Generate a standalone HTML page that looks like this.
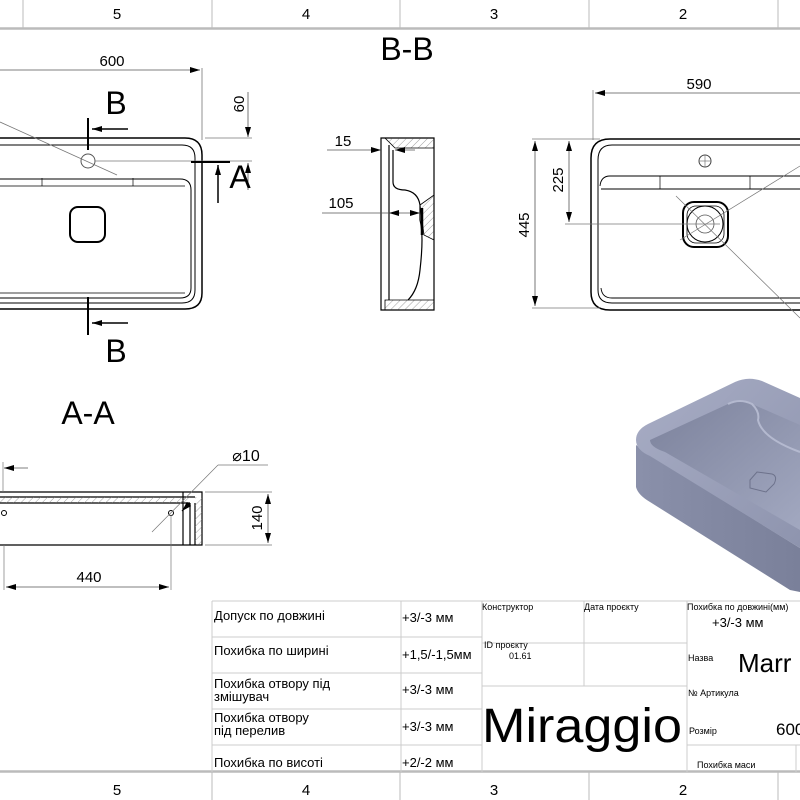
<!DOCTYPE html>
<html><head><meta charset="utf-8"><style>
html,body{margin:0;padding:0;background:#fff}
svg{display:block}
text{font-family:"Liberation Sans",sans-serif;fill:#000}
.t{font-family:"Liberation Sans Narrow","Liberation Sans",sans-serif}
</style></head><body>
<svg width="800" height="800" viewBox="0 0 800 800" xmlns="http://www.w3.org/2000/svg">
<defs>
<marker id="ar" markerWidth="10" markerHeight="6" refX="10" refY="3" orient="auto" markerUnits="userSpaceOnUse"><path d="M0,0 L10,3 L0,6 z" fill="#000"/></marker>
<pattern id="h" width="5" height="5" patternUnits="userSpaceOnUse" patternTransform="rotate(45)"><line x1="0" y1="0" x2="0" y2="5" stroke="#777" stroke-width="0.7"/></pattern>
<linearGradient id="g1" x1="0" y1="0" x2="1" y2="1"><stop offset="0" stop-color="#a8adc5"/><stop offset="1" stop-color="#8e94ae"/></linearGradient>
<linearGradient id="g2" x1="0" y1="0" x2="1" y2="1"><stop offset="0" stop-color="#7c829c"/><stop offset="1" stop-color="#a2a8c0"/></linearGradient>
<linearGradient id="g3" x1="0" y1="0" x2="1" y2="0"><stop offset="0" stop-color="#8a90aa"/><stop offset="1" stop-color="#7a809a"/></linearGradient>
</defs>
<!-- top ruler -->
<g stroke="#bbb" stroke-width="1">
<line x1="23" y1="0" x2="23" y2="28"/><line x1="212" y1="0" x2="212" y2="28"/><line x1="400" y1="0" x2="400" y2="28"/><line x1="589" y1="0" x2="589" y2="28"/><line x1="778" y1="0" x2="778" y2="28"/>
<line x1="0" y1="28.5" x2="800" y2="28.5" stroke-width="2.5"/>
<line x1="212" y1="772" x2="212" y2="800"/><line x1="400" y1="772" x2="400" y2="800"/><line x1="589" y1="772" x2="589" y2="800"/><line x1="778" y1="772" x2="778" y2="800"/>
<line x1="0" y1="771.5" x2="800" y2="771.5" stroke-width="2.5"/>
</g>
<g font-size="15" text-anchor="middle">
<text x="117" y="19">5</text><text x="306" y="19">4</text><text x="494" y="19">3</text><text x="683" y="19">2</text>
<text x="117" y="795">5</text><text x="306" y="795">4</text><text x="494" y="795">3</text><text x="683" y="795">2</text>
</g>

<!-- left top view -->
<g fill="none" stroke="#000" stroke-width="1.5">
<path d="M0,138 H185 Q202,138 202,155 V293 Q202,309 185,309 H0"/>
<path d="M0,145 H182 Q195,145 195,158 V290 Q195,303 182,303 H0" stroke-width="1"/>
<path d="M0,179 H180 Q191,179 191,190 V288 Q191,298 180,298 H0" stroke-width="1"/>
<path d="M0,186 H185 M0,293 H185" stroke-width="0.7"/>
<rect x="70" y="207" width="35" height="35" rx="8" stroke-width="2"/>
<line x1="42" y1="186" x2="42" y2="178" stroke-width="0.7"/><line x1="133" y1="186" x2="133" y2="178" stroke-width="0.7"/>
</g>
<circle cx="88" cy="161" r="7" fill="none" stroke="#555" stroke-width="1"/>
<g stroke="#777" stroke-width="0.8" fill="none">
<line x1="0" y1="122" x2="117" y2="175"/>
<line x1="202" y1="68" x2="202" y2="140"/>
<line x1="205" y1="138" x2="252" y2="138"/><line x1="95" y1="161" x2="252" y2="161"/>
</g>
<line x1="0" y1="70" x2="200" y2="70" stroke="#555" stroke-width="0.8" marker-end="url(#ar)"/>
<text x="112" y="66" font-size="15" text-anchor="middle">600</text>
<line x1="248" y1="92" x2="248" y2="137" stroke="#555" stroke-width="0.8" marker-end="url(#ar)"/>
<line x1="248" y1="190" x2="248" y2="163" stroke="#555" stroke-width="0.8" marker-end="url(#ar)"/>
<text x="244" y="104" font-size="15" text-anchor="middle" transform="rotate(-90 244 104)">60</text>
<g stroke="#000" stroke-width="2">
<line x1="88" y1="118" x2="88" y2="150"/><line x1="88" y1="297" x2="88" y2="335"/>
<line x1="191" y1="162" x2="230" y2="162"/>
</g>
<g stroke="#000" stroke-width="1.5">
<line x1="128" y1="129" x2="92" y2="129" marker-end="url(#ar)"/>
<line x1="128" y1="323" x2="92" y2="323" marker-end="url(#ar)"/>
<line x1="218" y1="203" x2="218" y2="165" marker-end="url(#ar)"/>
</g>
<text x="116" y="114" font-size="32" text-anchor="middle">B</text>
<text x="116" y="362" font-size="32" text-anchor="middle">B</text>
<text x="240" y="188" font-size="32" text-anchor="middle">A</text>

<!-- B-B -->
<text x="407" y="60" font-size="32" text-anchor="middle">B-B</text>
<path d="M381,138 H434 V310 H381 Z M389,145 V300 M393,150 V182 Q393,190 405,190 Q418,192 420,205 V220 Q424,235 420,270 Q418,290 408,300" fill="none" stroke="#000" stroke-width="1.2"/>
<path d="M385,138 H434 V148 H395 Z" fill="url(#h)" stroke="#000" stroke-width="0.8"/>
<path d="M385,300 H434 V310 H385 Z" fill="url(#h)" stroke="#000" stroke-width="0.8"/>
<path d="M420,205 L434,195 V240 L424,235 Z" fill="url(#h)" stroke="#000" stroke-width="0.8"/>
<line x1="422" y1="208" x2="422" y2="235" stroke="#000" stroke-width="2.5"/>
<line x1="327" y1="150" x2="381" y2="150" stroke="#555" stroke-width="0.8" marker-end="url(#ar)"/>
<line x1="415" y1="150" x2="395" y2="150" stroke="#555" stroke-width="0.8" marker-end="url(#ar)"/>
<text x="343" y="146" font-size="15" text-anchor="middle">15</text>
<line x1="322" y1="213" x2="420" y2="213" stroke="#555" stroke-width="0.8" marker-end="url(#ar)"/>
<line x1="400" y1="213" x2="389" y2="213" stroke="#555" stroke-width="0.8" marker-end="url(#ar)"/>
<text x="341" y="208" font-size="15" text-anchor="middle">105</text>

<!-- right top view -->
<g fill="none" stroke="#000" stroke-width="1.5">
<path d="M800,139 H610 Q591,139 591,158 V292 Q591,310 610,310 H800"/>
<path d="M800,145 H612 Q598,145 598,160 V290 Q598,303 612,303 H800" stroke-width="1"/>
<path d="M800,176 H610 Q601,176 600,186 M800,189 H601 M800,298 H612 Q602,298 601,288" stroke-width="0.9"/>
<rect x="683" y="202" width="45" height="45" rx="11" stroke-width="2"/>
<rect x="687" y="206" width="37" height="37" rx="9" stroke-width="0.8"/>
</g>
<line x1="660" y1="176" x2="660" y2="189" stroke="#000" stroke-width="0.7"/><line x1="750" y1="176" x2="750" y2="189" stroke="#000" stroke-width="0.7"/>
<circle cx="705" cy="224" r="18" fill="none" stroke="#000" stroke-width="1"/>
<circle cx="705" cy="224" r="9" fill="none" stroke="#555" stroke-width="0.8"/>
<circle cx="705" cy="161" r="6" fill="none" stroke="#444" stroke-width="1"/>
<g stroke="#777" stroke-width="0.7" fill="none">
<line x1="705" y1="155" x2="705" y2="167"/><line x1="699" y1="161" x2="711" y2="161"/>
<line x1="676" y1="196" x2="800" y2="318"/><line x1="680" y1="240" x2="800" y2="166"/>
<line x1="593" y1="90" x2="593" y2="140"/>
<line x1="532" y1="139" x2="600" y2="139"/><line x1="532" y1="308" x2="600" y2="308"/>
<line x1="565" y1="224" x2="720" y2="224"/>
</g>
<line x1="800" y1="93" x2="595" y2="93" stroke="#555" stroke-width="0.8" marker-end="url(#ar)"/>
<text x="699" y="89" font-size="15" text-anchor="middle">590</text>
<line x1="535" y1="224" x2="535" y2="141" stroke="#555" stroke-width="0.8" marker-end="url(#ar)"/>
<line x1="535" y1="224" x2="535" y2="306" stroke="#555" stroke-width="0.8" marker-end="url(#ar)"/>
<text x="529" y="225" font-size="15" text-anchor="middle" transform="rotate(-90 529 225)">445</text>
<line x1="569" y1="180" x2="569" y2="141" stroke="#555" stroke-width="0.8" marker-end="url(#ar)"/>
<line x1="569" y1="180" x2="569" y2="222" stroke="#555" stroke-width="0.8" marker-end="url(#ar)"/>
<text x="563" y="180" font-size="15" text-anchor="middle" transform="rotate(-90 563 180)">225</text>

<!-- A-A -->
<text x="88" y="424" font-size="32" text-anchor="middle">A-A</text>
<g fill="none" stroke="#000" stroke-width="1.2">
<path d="M0,492 H202 V545 H0"/>
<line x1="0" y1="497" x2="195" y2="497"/><line x1="0" y1="503" x2="190" y2="503"/>
<line x1="183" y1="492" x2="183" y2="545"/><line x1="195" y1="503" x2="195" y2="545"/><line x1="190" y1="503" x2="190" y2="545"/>
</g>
<rect x="0" y="497" width="190" height="6" fill="url(#h)"/>
<rect x="195" y="497" width="7" height="48" fill="url(#h)"/>
<circle cx="171" cy="513" r="2.5" fill="none" stroke="#000"/>
<circle cx="4" cy="513" r="2.5" fill="none" stroke="#000"/>
<g stroke="#777" stroke-width="0.7">
<line x1="205" y1="492" x2="272" y2="492"/><line x1="205" y1="545" x2="272" y2="545"/>
<line x1="4" y1="545" x2="4" y2="590"/><line x1="171" y1="515" x2="171" y2="590"/>
<line x1="152" y1="532" x2="218" y2="465"/><line x1="218" y1="465" x2="268" y2="465"/>
<line x1="3" y1="462" x2="3" y2="492"/>
</g>
<line x1="28" y1="468" x2="4" y2="468" stroke="#555" stroke-width="0.8" marker-end="url(#ar)"/>
<line x1="268" y1="518" x2="268" y2="494" stroke="#555" stroke-width="0.8" marker-end="url(#ar)"/>
<line x1="268" y1="518" x2="268" y2="543" stroke="#555" stroke-width="0.8" marker-end="url(#ar)"/>
<text x="262" y="518" font-size="15" text-anchor="middle" transform="rotate(-90 262 518)">140</text>
<line x1="88" y1="587" x2="6" y2="587" stroke="#555" stroke-width="0.8" marker-end="url(#ar)"/>
<line x1="88" y1="587" x2="169" y2="587" stroke="#555" stroke-width="0.8" marker-end="url(#ar)"/>
<text x="89" y="582" font-size="15" text-anchor="middle">440</text>
<line x1="190" y1="503" x2="182" y2="511" stroke="#000" stroke-width="1.2" marker-end="url(#ar)"/>
<text x="246" y="461" font-size="16" text-anchor="middle">⌀10</text>

<!-- 3D render -->
<path d="M636,445 L636,487 Q638,495 650,502 L790,590 L800,592 V548 L650,455 Z" fill="url(#g3)"/>
<path d="M636,440 Q636,430 648,424 L735,382 Q748,376 762,381 L800,398 V548 L650,456 Q636,450 636,440 Z" fill="url(#g1)"/>
<path d="M650,440 L728,404 Q740,398 752,404 L800,425 V530 L665,452 Q650,447 650,440 Z" fill="url(#g2)"/>
<path d="M728,404 Q740,398 752,404 Q760,412 758,420 Q762,438 800,452" fill="none" stroke="#b4b9cf" stroke-width="2"/>
<path d="M750,480 L757,472 L772,474 Q778,476 774,484 L766,492 L750,488 Z" fill="none" stroke="#6d728b" stroke-width="1"/>

<!-- table -->
<g stroke="#ccc" stroke-width="1" fill="none">
<line x1="212" y1="601" x2="212" y2="772"/>
<line x1="212" y1="601" x2="800" y2="601"/>
<line x1="212" y1="637" x2="482" y2="637"/><line x1="482" y1="643" x2="687" y2="643"/>
<line x1="212" y1="673" x2="482" y2="673"/><line x1="482" y1="686" x2="687" y2="686"/>
<line x1="212" y1="709" x2="482" y2="709"/>
<line x1="212" y1="745" x2="482" y2="745"/>
<line x1="401" y1="601" x2="401" y2="772"/><line x1="482" y1="601" x2="482" y2="772"/>
<line x1="584" y1="601" x2="584" y2="686"/><line x1="687" y1="601" x2="687" y2="772"/>
<line x1="796" y1="745" x2="796" y2="772"/><line x1="687" y1="745" x2="800" y2="745"/>
</g>
<g class="t" font-size="13">
<text x="214" y="620">Допуск по довжині</text>
<text x="214" y="655">Похибка по ширині</text>
<text x="214" y="688">Похибка отвору під</text>
<text x="214" y="701">змішувач</text>
<text x="214" y="722">Похибка отвору</text>
<text x="214" y="735">під перелив</text>
<text x="214" y="767">Похибка по висоті</text>
<text x="402" y="622">+3/-3 мм</text>
<text x="402" y="659">+1,5/-1,5мм</text>
<text x="402" y="694">+3/-3 мм</text>
<text x="402" y="731">+3/-3 мм</text>
<text x="402" y="767">+2/-2 мм</text>
</g>
<g class="t" font-size="9">
<text x="482" y="610">Конструктор</text>
<text x="584" y="610">Дата проєкту</text>
<text x="687" y="610">Похибка по довжині(мм)</text>
<text x="484" y="648">ID проєкту</text>
<text x="509" y="659">01.61</text>
<text x="688" y="661">Назва</text>
<text x="688" y="696">№ Артикула</text>
<text x="689" y="734">Розмір</text>
<text x="697" y="768">Похибка маси</text>
</g>
<text class="t" x="712" y="627" font-size="13">+3/-3 мм</text>
<text class="t" x="738" y="672" font-size="26">Marr</text>
<text class="t" x="776" y="735" font-size="17">600</text>
<text class="t" x="482" y="742" font-size="48" textLength="200" lengthAdjust="spacingAndGlyphs">Miraggio</text>
</svg>
</body></html>
